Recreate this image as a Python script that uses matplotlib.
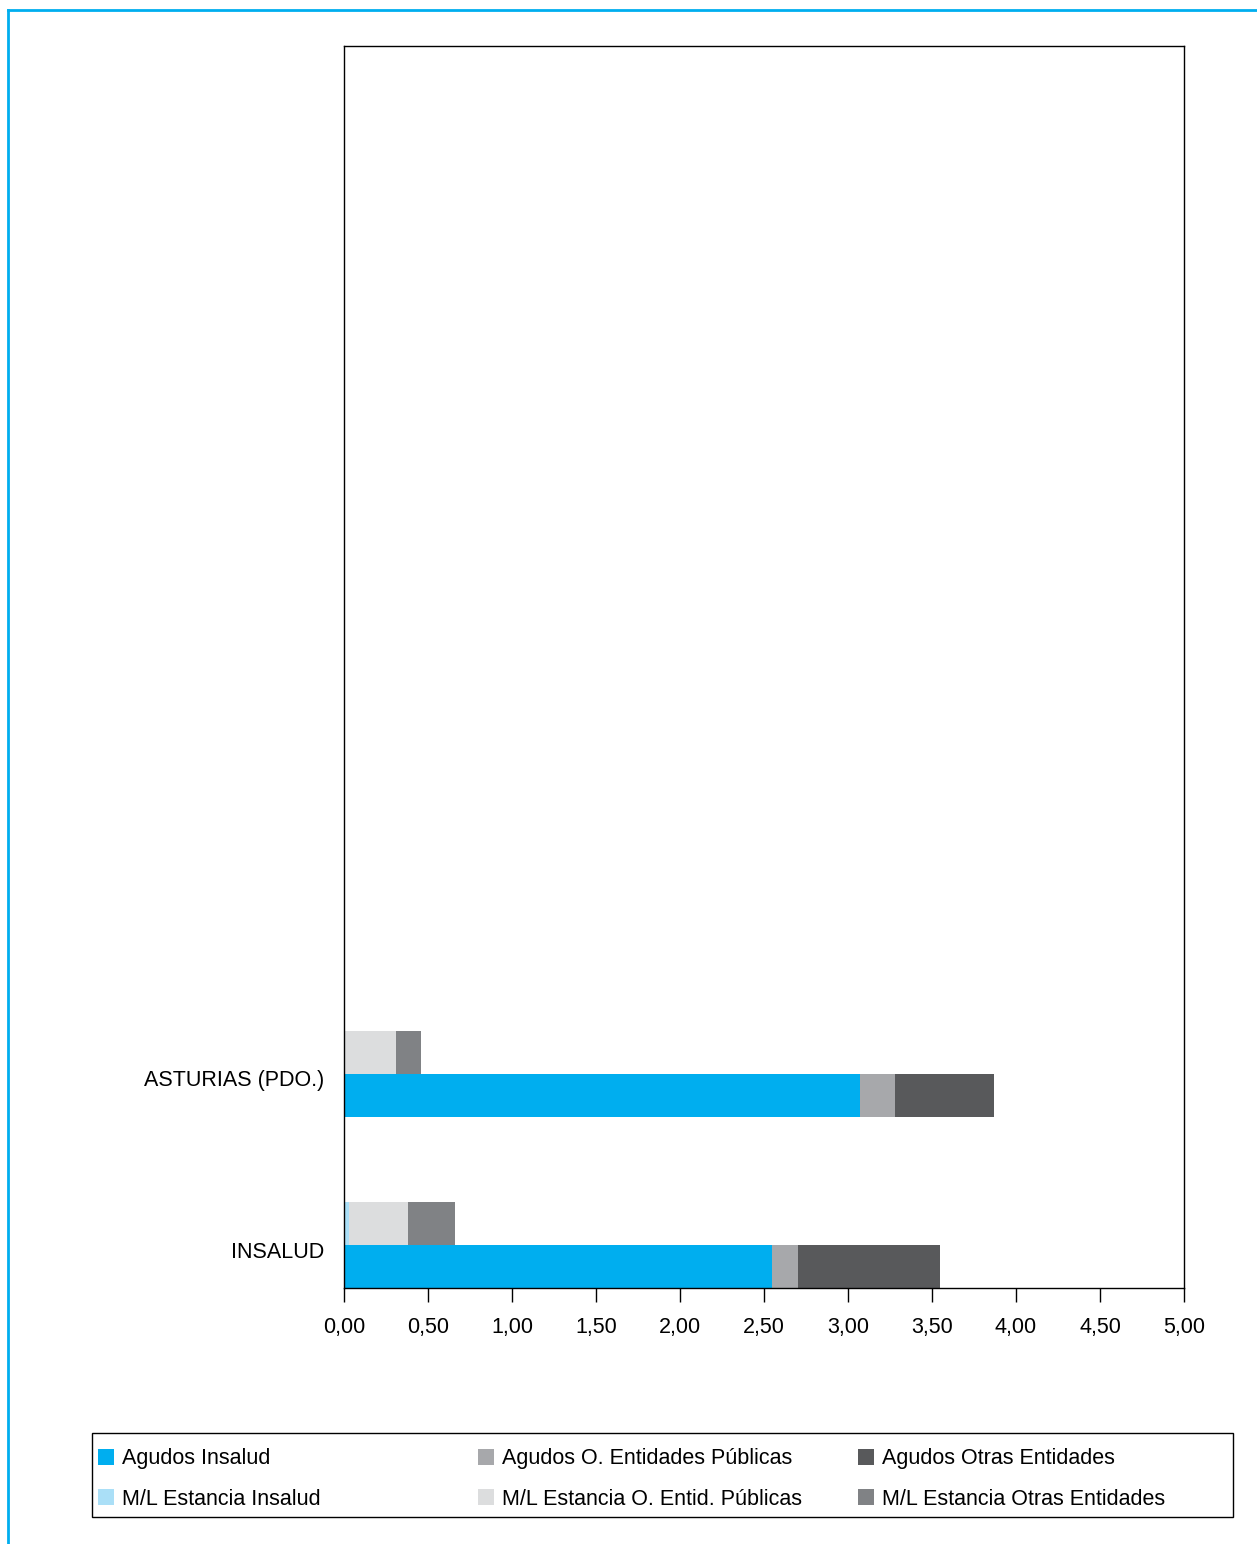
import numpy as np
import matplotlib.pyplot as plt
from matplotlib.lines import Line2D
from matplotlib.patches import Rectangle

plt.rcParams['font.family'] = ['Liberation Sans', 'DejaVu Sans']

categories = ['INSALUD', 'ASTURIAS (PDO.)']
agudos_insalud = [2.55, 3.07]
agudos_opub = [0.15, 0.21]
agudos_otras = [0.85, 0.59]
ml_insalud = [0.03, 0.0]
ml_opub = [0.35, 0.31]
ml_otras = [0.28, 0.15]

labels = ['Agudos Insalud', 'Agudos O. Entidades Públicas', 'Agudos Otras Entidades',
          'M/L Estancia Insalud', 'M/L Estancia O. Entid. Públicas', 'M/L Estancia Otras Entidades']
colors = ['#00aeef', '#a7a8ab', '#58595b', '#aadff7', '#dcddde', '#808285']

W, H = 1257, 1544
fs = 15.5
fig = plt.figure(figsize=(W/100, H/100), dpi=100)
ax = fig.add_axes([344/W, 1-1288/H, (1184-344)/W, (1288-46)/H])

y = np.arange(len(categories))
h = 0.25
bars = []
left = np.zeros(len(y))
for vals, c in zip([agudos_insalud, agudos_opub, agudos_otras], colors[:3]):
    bars.append(ax.barh(y - 0.125, vals, height=h, left=left, color=c, linewidth=0))
    left = left + np.array(vals)
left = np.zeros(len(y))
for vals, c in zip([ml_insalud, ml_opub, ml_otras], colors[3:]):
    bars.append(ax.barh(y + 0.125, vals, height=h, left=left, color=c, linewidth=0))
    left = left + np.array(vals)

ax.set_xlim(0, 5)
ax.set_ylim(-0.25, 7.01)
xt = np.arange(0, 5.01, 0.5)
ax.set_xticks(xt)
ax.set_xticklabels([f'{v:.2f}'.replace('.', ',') for v in xt], fontsize=fs)
ax.set_yticks(y - 0.025)
ax.set_yticklabels(categories, fontsize=fs)
ax.tick_params(axis='y', length=0, pad=14)
ax.tick_params(axis='x', direction='out', length=10, width=1, pad=11)
for s in ax.spines.values():
    s.set_linewidth(1)

# cyan frame on left and top edges
fig.add_artist(Line2D([8/W, 8/W], [0, 1-10/H], color='#00aeef', lw=2))
fig.add_artist(Line2D([8/W, 1], [1-10/H, 1-10/H], color='#00aeef', lw=2))

# legend box
fig.add_artist(Rectangle((92/W, 1-1517/H), (1233-92)/W, 84/H, transform=fig.transFigure,
                         fill=False, edgecolor='black', lw=1))
for col, x0 in enumerate([98, 478, 858]):
    lg = fig.legend([bars[col], bars[col+3]], [labels[col], labels[col+3]],
                    loc='center left', bbox_to_anchor=(x0/W, 1-1479/H),
                    fontsize=fs, frameon=False, handlelength=0.75, handleheight=0.75,
                    handletextpad=0.35, labelspacing=0.9, borderpad=0, borderaxespad=0)

fig.savefig('out.png', dpi=100)
